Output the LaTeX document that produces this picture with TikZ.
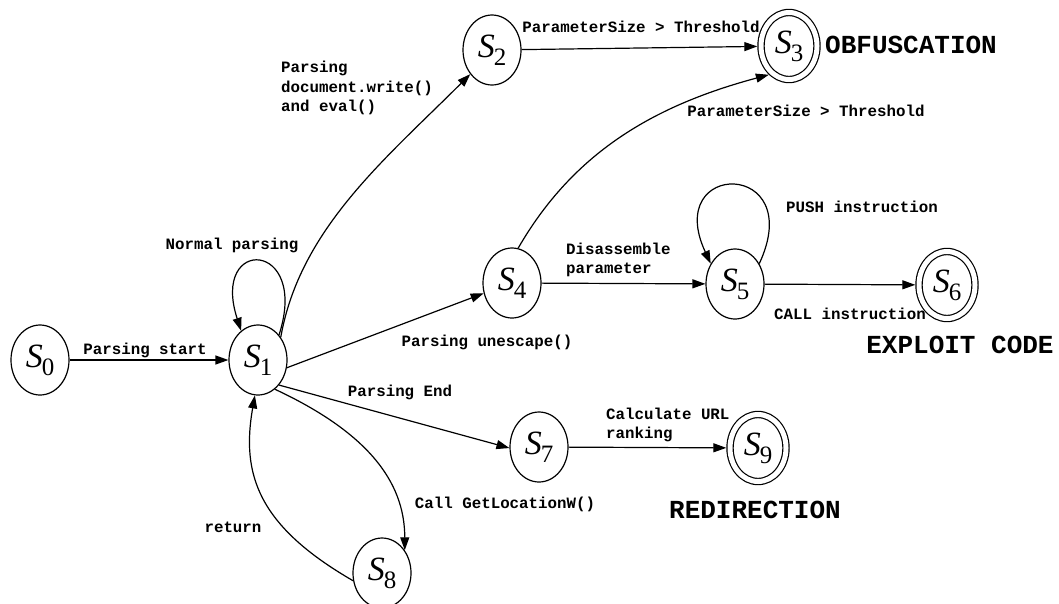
\documentclass[tikz,border=0pt]{standalone}
\usepackage{fontspec}
\setmainfont{Liberation Serif}
\setmonofont{Liberation Mono}
\usetikzlibrary{arrows.meta,shapes.geometric}

% state name: italic S with upright index
\newcommand{\stname}[1]{{\fontsize{34}{34}\selectfont\itshape S}\kern-1pt\raisebox{-8pt}{\fontsize{25}{25}\selectfont #1}}

\tikzset{
  stnode/.style={draw, ellipse, line width=1.2pt, minimum width=58pt, minimum height=70pt, inner sep=0pt},
  acceptnode/.style={stnode, double, double distance=5pt, minimum width=56pt, minimum height=67pt, outer sep=3.7pt},
  trans/.style={line width=1.2pt, -{Triangle[length=13pt,width=9pt]}},
  lbl/.style={font=\fontsize{15.8}{19.5}\selectfont\ttfamily\bfseries, inner sep=0pt, align=left},
  tag/.style={font=\fontsize{26}{30}\selectfont\ttfamily\bfseries, inner sep=0pt}
}

\begin{document}
\begin{tikzpicture}[x=1pt, y=-1pt]
\useasboundingbox (0,0) rectangle (1059,603);

% states
\node[stnode] (S0) at (40,360) {\stname{0}};
\node[stnode] (S1) at (258,360) {\stname{1}};
\node[stnode] (S2) at (492,50) {\stname{2}};
\node[acceptnode] (S3) at (789,46) {\stname{3}};
\node[stnode] (S4) at (512,283) {\stname{4}};
\node[stnode] (S5) at (735,284) {\stname{5}};
\node[acceptnode] (S6) at (947,285) {\stname{6}};
\node[stnode] (S7) at (539,447) {\stname{7}};
\node[stnode] (S8) at (382,573) {\stname{8}};
\node[acceptnode] (S9) at (758,448) {\stname{9}};

% transitions
\draw[trans] (S0) -- (S1);
\draw[trans] (S1.50) .. controls +(72:100pt) and +(108:100pt) .. (S1.120);
\draw[trans] (S1.45) .. controls +(80:110pt) and +(225:120pt) .. (S2.228);
\draw[trans] (S2) -- (S3);
\draw[trans] (S4.80) .. controls +(60:110pt) and +(195:120pt) .. (S3.235);
\draw[trans] (S1.-15) -- (S4.200);
\draw[trans] (S4) -- (S5);
\draw[trans] (S5.40) .. controls +(65:115pt) and +(115:115pt) .. (S5.140);
\draw[trans] (S5) -- (S6);
\draw[trans] (S1.-50) -- (S7.182);
\draw[trans] (S7) -- (S9);
\draw[trans] (S1.-60) .. controls +(-25:100pt) and +(90:70pt) .. (S8.45);
\draw[trans] (S8.195) .. controls +(150:110pt) and +(-100:80pt) .. (S1.-95);

% labels
\node[lbl] (lstart) at (145,350) {Parsing start};
\node[lbl] (lnormal) at (232,245) {Normal parsing};
\node[lbl, anchor=west] (lwrite) at (281,88) {Parsing\\document.write()\\and eval()};
\node[lbl] (lthr) at (641,27) {ParameterSize > Threshold};
\node[lbl] (lthrb) at (806,111) {ParameterSize > Threshold};
\node[lbl] (lunesc) at (487,342) {Parsing unescape()};
\node[lbl, anchor=west] (ldis) at (566,260) {Disassemble\\parameter};
\node[lbl] (lpush) at (862,207) {PUSH instruction};
\node[lbl] (lcall) at (850,314) {CALL instruction};
\node[lbl] (lend) at (400,392) {Parsing End};
\node[lbl, anchor=west] (lurl) at (606,425) {Calculate URL\\ranking};
\node[lbl] (lgetloc) at (505,504) {Call GetLocationW()};
\node[lbl] (lret) at (233,527) {return};

\node[tag, anchor=west] (tobf) at (825,45) {OBFUSCATION};
\node[tag] (texp) at (960,345) {EXPLOIT CODE};
\node[tag] (tred) at (755,510) {REDIRECTION};
\end{tikzpicture}
\end{document}
